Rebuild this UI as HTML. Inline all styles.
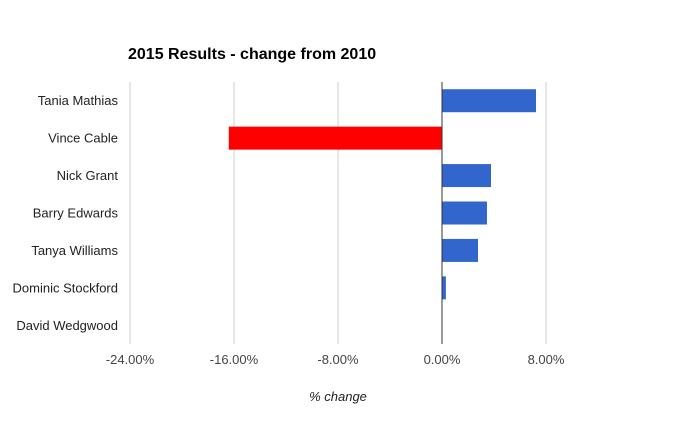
<!DOCTYPE html>
<html><head><meta charset="utf-8"><style>
body{margin:0;background:#fff;font-family:"Liberation Sans",Arial,sans-serif}
svg text{font-family:"Liberation Sans",Arial,sans-serif}
</style></head><body>
<svg id="chart" width="676" height="426">
<text x="128" y="59" font-size="16" font-weight="bold" fill="#000">2015 Results - change from 2010</text>
<g id="grid"></g><g id="bars"></g><g id="axis"></g><g id="labels"></g>
<text x="338" y="401" font-size="13" font-style="italic" fill="#222" text-anchor="middle">% change</text>
</svg>
<script>
const categories=["Tania Mathias","Vince Cable","Nick Grant","Barry Edwards","Tanya Williams","Dominic Stockford","David Wedgwood"];
const values=[7.23,-16.4,3.77,3.46,2.77,0.3,0];
const ticks=[-24,-16,-8,0,8];
const tickLabels=["-24.00%","-16.00%","-8.00%","0.00%","8.00%"];
const NS="http://www.w3.org/2000/svg";
const x0=442,ppu=13,plotTop=82,plotBottom=344;
const xs=v=>x0+v*ppu;
const rowH=(plotBottom-plotTop)/categories.length;
function mk(t,a,p){const e=document.createElementNS(NS,t);for(const k in a)e.setAttribute(k,a[k]);p.appendChild(e);return e;}
const grid=document.getElementById('grid'),bars=document.getElementById('bars'),labels=document.getElementById('labels'),axis=document.getElementById('axis');
ticks.forEach((t,i)=>{
 const l=mk('line',{x1:xs(t),x2:xs(t),y1:plotTop,y2:plotBottom,stroke:t===0?'#333':'#ccc','stroke-width':1},t===0?axis:grid);
 
 
 const tx=mk('text',{x:xs(t),y:364,'font-size':13,fill:'#444','text-anchor':'middle'},labels);
 tx.textContent=tickLabels[i];
 
 
});
categories.forEach((c,i)=>{
 const cy=plotTop+rowH*(i+0.5);
 const tx=mk('text',{x:118,y:cy+4.5,'font-size':13,fill:'#222','text-anchor':'end'},labels);
 tx.textContent=c;
 
 
 const v=values[i];
 if(v!==0){
  const r=mk('rect',{x:Math.min(xs(v),x0),y:cy-11.5,width:Math.abs(xs(v)-x0),height:23,fill:v<0?'#ff0000':'#3366cc'},bars);
  
  
 }
});
</script>
</body></html>
